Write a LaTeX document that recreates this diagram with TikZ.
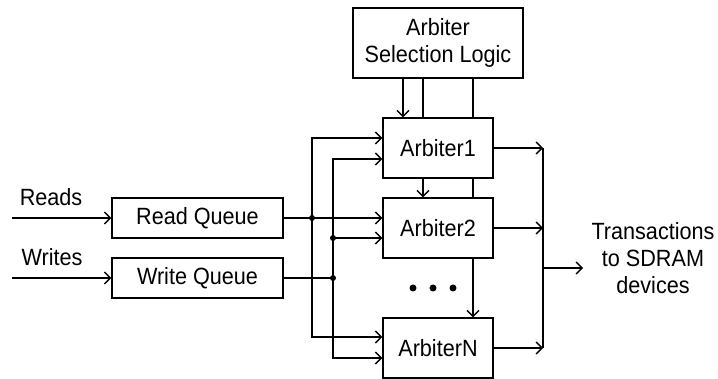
\documentclass[tikz,border=0pt]{standalone}
\usepackage{fontspec}
\setmainfont{Liberation Sans}[FakeStretch=0.92]
\usetikzlibrary{arrows.meta,calc}
\begin{document}
\begin{tikzpicture}[x=1pt,y=-1pt,
  every node/.style={font=\fontsize{23.5}{27}\selectfont},
  blk/.style={draw,fill=white,line width=1.4pt,inner sep=0pt,align=center},
  arbbox/.style={blk,minimum width=110pt,minimum height=60pt},
  qbox/.style={blk,minimum width=171pt,minimum height=40pt},
  wire/.style={line width=1.4pt},
  arr/.style={wire,-{Straight Barb[length=6pt,width=12pt,line width=1.4pt]}},
  junction/.style={circle,fill=black,inner sep=0pt,minimum size=6pt}]
\useasboundingbox (0,0) rectangle (718,379);

% blocks
\node[blk,minimum width=170pt,minimum height=70pt] (asl) at (438,43) {Arbiter\\Selection Logic};
\node[arbbox] (arb1) at (438,148) {Arbiter1};
\node[arbbox] (arb2) at (438,228) {Arbiter2};
\node[arbbox] (arbN) at (438,348) {ArbiterN};
\node[qbox] (rq) at (197.5,218) {Read Queue};
\node[qbox] (wq) at (197.5,278) {Write Queue};

% inputs
\coordinate (rin) at (12,218);
\coordinate (win) at (12,278);
\node[anchor=base] (rlab) at (51,206) {Reads};
\node[anchor=base] (wlab) at (52,266) {Writes};
\draw[arr] (rin) -- (rq.west);
\draw[arr] (win) -- (wq.west);

% selection logic to arbiters
\draw[arr] ([xshift=-35pt]asl.south) -- ([xshift=-35pt]arb1.north);
\draw[wire] ([xshift=-15pt]asl.south) -- ([xshift=-15pt]arb1.north);
\draw[arr] ([xshift=-15pt]arb1.south) -- ([xshift=-15pt]arb2.north);
\draw[wire] ([xshift=35pt]asl.south) -- ([xshift=35pt]arb1.north);
\draw[wire] ([xshift=35pt]arb1.south) -- ([xshift=35pt]arb2.north);
\draw[arr] ([xshift=35pt]arb2.south) -- ([xshift=35pt]arbN.north);

% queue distribution buses
\coordinate (j1) at (312,218);
\coordinate (j2) at (333,278);
\coordinate (j3) at (333,238);
\draw[wire] (rq.east) -- (j1);
\draw[wire] (wq.east) -- (j2);
\draw[arr] (j1) -- (arb2.west |- j1);
\draw[arr] (j3) -- (arb2.west |- j3);
\draw[arr] (j1) |- ($(arb1.west)+(0,-10)$);
\draw[arr] (j1) |- ($(arbN.west)+(0,-11)$);
\draw[arr] (j3) |- ($(arb1.west)+(0,11)$);
\draw[arr] (j3) |- ($(arbN.west)+(0,10)$);
\draw[wire] (j3) -- (j2);
\node[junction] (d1) at (j1) {};
\node[junction] (d2) at (j2) {};
\node[junction] (d3) at (j3) {};

% ellipsis between Arbiter2 and ArbiterN
\foreach \x/\n in {413/a,433/b,453/c}
  \node[junction,minimum size=7pt] (dot\n) at (\x,288) {};

% outputs
\coordinate (o1) at (543,148);
\coordinate (o2) at (543,228);
\coordinate (oN) at (543,348);
\coordinate (om) at (543,268);
\draw[arr] (arb1.east) -- (o1);
\draw[arr] (arb2.east) -- (o2);
\draw[arr] (arbN.east) -- (oN);
\draw[wire] (o1) -- (oN);
\node[align=center] (tx) at (653,258) {Transactions\\to SDRAM\\devices};
\draw[arr] (om) -- (583,268);
\end{tikzpicture}
\end{document}
